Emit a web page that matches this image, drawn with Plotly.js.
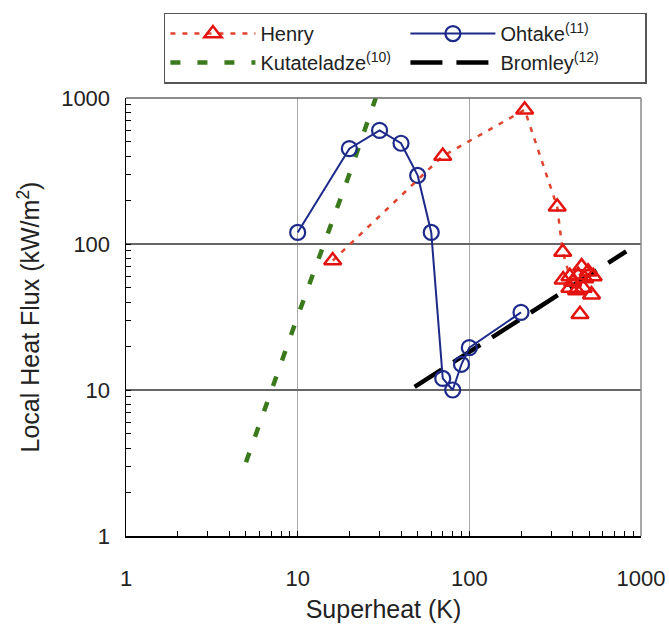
<!DOCTYPE html>
<html>
<head>
<meta charset="utf-8">
<script src="https://cdn.plot.ly/plotly-3.0.1.min.js"></script>
<style>html,body{margin:0;padding:0;background:#fff;}#chart{width:669px;height:636px;}</style>
</head>
<body>
<div id="chart"></div>
<script>
// Henry (triangles, dotted line)
const henryX = [16, 70, 210, 325, 350, 385];
const henryY = [77, 400, 830, 180, 88, 60];
const henryClusterX = [352, 431, 451, 492, 527, 385, 421, 461, 515, 441, 400, 470];
const henryClusterY = [57, 61, 70, 64.5, 60, 50, 48, 50, 45, 33, 55, 58];
// Ohtake (circles, solid line)
const ohtakeX = [10, 20, 30, 40, 50, 60, 70, 80, 90, 100, 200];
const ohtakeY = [120, 450, 600, 490, 295, 120, 12, 10, 15, 19.5, 34];
// Kutateladze (green dashed)
const kutX = [5, 10, 20, 28.5];
const kutY = [3.2, 32, 300, 1000];
// Bromley (black long dash)
const bromX = [48, 100, 200, 820];
const bromY = [10.5, 18.3, 30.9, 89];
// ticks
const majorTicks = [1, 10, 100, 1000];
const majorLabels = ['1', '10', '100', '1000'];
const minorTicks = [2,3,4,5,6,7,8,9,20,30,40,50,60,70,80,90,200,300,400,500,600,700,800,900];

const FONT = 'Liberation Sans, Arial, sans-serif';
const RED = '#e3140f';
const NAVY = '#1d2a8a';
const GREEN = '#3b7a1c';

const traces = [
  {x: kutX, y: kutY, mode: 'lines', name: 'Kutateladze<sup>(10)</sup>', legendrank: 3,
   line: {color: GREEN, width: 4.5, dash: '10px,17px'}},
  {x: bromX, y: bromY, mode: 'lines', name: 'Bromley<sup>(12)</sup>', legendrank: 4,
   line: {color: '#000', width: 4.5, dash: '32px,14px'}},
  {x: ohtakeX, y: ohtakeY, mode: 'lines+markers', name: 'Ohtake<sup>(11)</sup>', legendrank: 2,
   line: {color: NAVY, width: 2},
   marker: {symbol: 'circle-open', size: 15, color: NAVY, line: {width: 2.2, color: NAVY}}},
  {x: henryX, y: henryY, mode: 'lines+markers', name: 'Henry', legendrank: 1,
   line: {color: '#e0442e', width: 2.5, dash: '5px,7px'},
   marker: {symbol: 'triangle-up-open', size: 15, color: RED, line: {width: 2.5, color: RED}}},
  {x: henryClusterX, y: henryClusterY, mode: 'markers', showlegend: false,
   marker: {symbol: 'triangle-up-open', size: 15, color: RED, line: {width: 2.5, color: RED}}}
];

const axisCommon = {
  type: 'log', range: [0, 3],
  tickmode: 'array', tickvals: majorTicks, ticktext: majorLabels,
  ticks: 'inside', ticklen: 5, tickcolor: '#000', tickwidth: 1,
  showline: true, linecolor: '#000', linewidth: 1.5,
  showgrid: true, zeroline: false,
  tickfont: {family: FONT, size: 22, color: '#222'},
  minor: {tickvals: minorTicks, ticks: 'inside', ticklen: 5, tickcolor: '#000', tickwidth: 1, showgrid: false}
};

const layout = {
  width: 669, height: 636,
  margin: {l: 126, r: 28, t: 95, b: 100},
  paper_bgcolor: '#fff', plot_bgcolor: '#fff',
  font: {family: FONT, color: '#222'},
  showlegend: true,
  xaxis: Object.assign({}, axisCommon, {
    gridcolor: '#aaa', gridwidth: 1,
    ticklabelstandoff: 22,
    title: {text: 'Superheat (K)', font: {family: FONT, size: 25, color: '#222'}, standoff: 10}
  }),
  yaxis: Object.assign({}, axisCommon, {
    gridcolor: '#666', gridwidth: 1.2,
    ticklabelstandoff: 10,
    title: {text: 'Local Heat Flux (kW/m<sup>2</sup>)', font: {family: FONT, size: 25, color: '#222'}, standoff: 14}
  }),
  legend: {
    orientation: 'h', x: 1.0115, xanchor: 'right', y: 1.195, yanchor: 'top',
    entrywidth: 140, entrywidthmode: 'pixels', itemwidth: 85,
    bgcolor: '#fff', bordercolor: '#555', borderwidth: 1.5,
    font: {family: FONT, size: 20, color: '#222'},
    traceorder: 'normal'
  },
  shapes: [
    {type: 'line', xref: 'paper', yref: 'paper', x0: 0, x1: 1, y0: 1, y1: 1, line: {color: '#666', width: 1.5}},
    {type: 'line', xref: 'paper', yref: 'paper', x0: 1, x1: 1, y0: 0, y1: 1, line: {color: '#888', width: 1.5}}
  ]
};

Plotly.newPlot('chart', traces, layout, {staticPlot: true, displayModeBar: false});
</script>
</body>
</html>
